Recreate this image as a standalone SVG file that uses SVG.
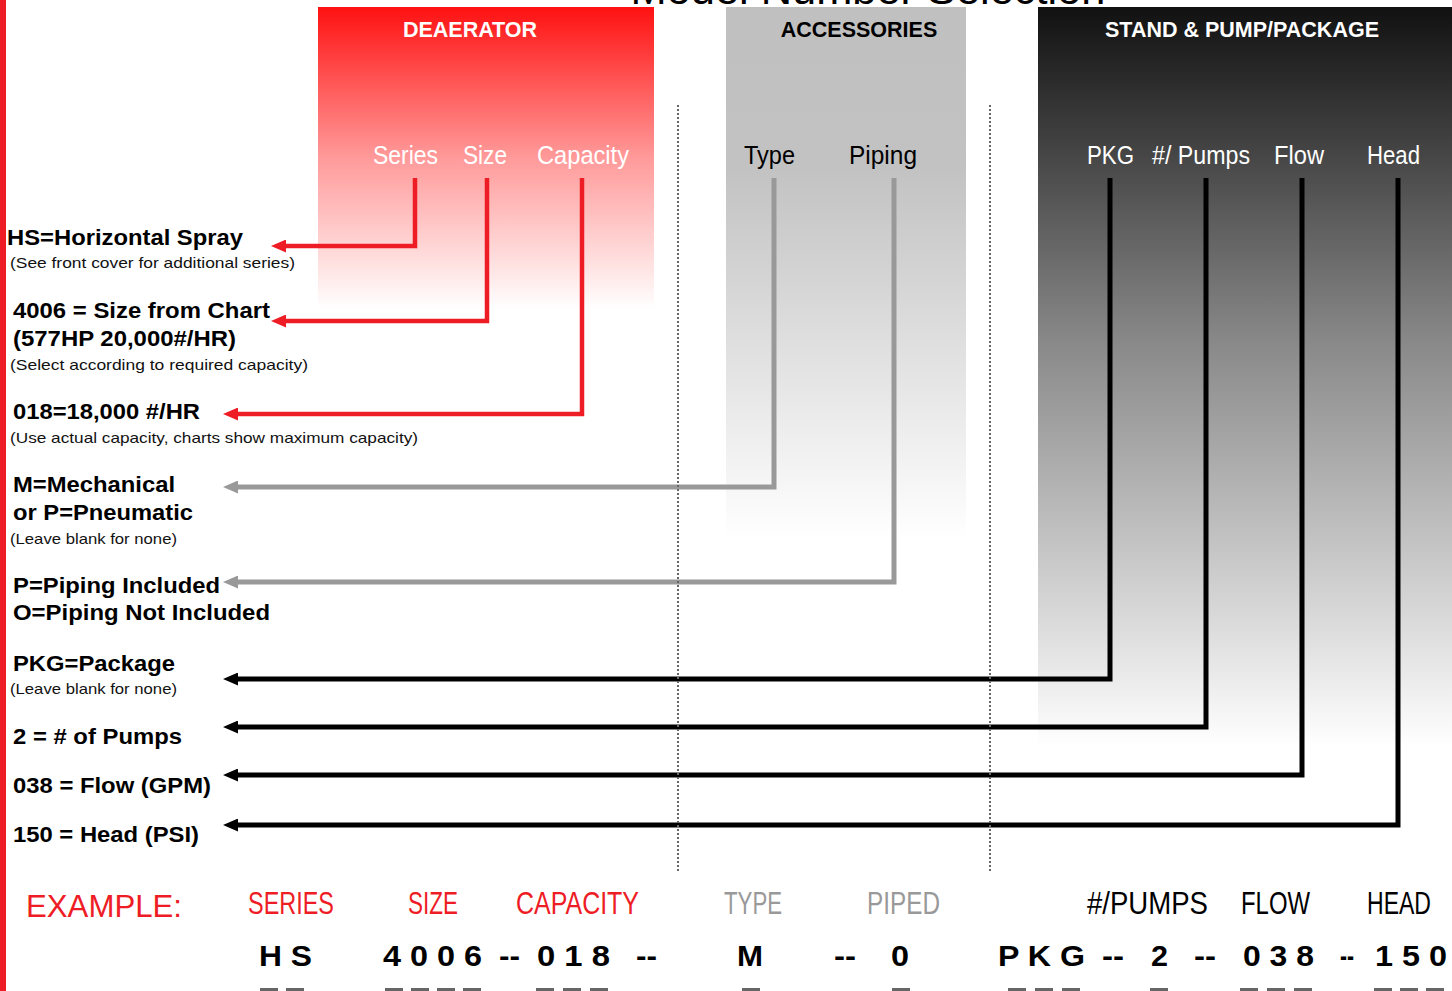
<svg xmlns="http://www.w3.org/2000/svg" width="1452" height="991" viewBox="0 0 1452 991">
<style>
.b{font-family:"Liberation Sans",Arial,sans-serif;font-weight:bold;font-size:22px;fill:#000}
.s{font-family:"Liberation Sans",Arial,sans-serif;font-size:15px;fill:#111}
.h{font-family:"Liberation Sans",Arial,sans-serif;font-weight:bold;font-size:21.5px}
.n{font-family:"Liberation Sans Narrow","Liberation Sans",Arial,sans-serif;font-size:25px}
.e{font-family:"Liberation Sans Narrow","Liberation Sans",Arial,sans-serif;font-size:32px}
.v{font-family:"Liberation Sans Narrow","Liberation Sans",Arial,sans-serif;font-weight:bold;font-size:30px;fill:#000}
.red{stroke:#ee1c25;stroke-width:4.5;fill:none}
.gry{stroke:#999;stroke-width:5;fill:none}
.blk{stroke:#000;stroke-width:5;fill:none}
.div{stroke:#666;stroke-width:2;stroke-dasharray:2,2;fill:none}
.ul{fill:#666}
</style>
<defs>
<linearGradient id="gR" x1="0" y1="0" x2="0" y2="1">
<stop offset="0" stop-color="#ff1111"/><stop offset="0.5" stop-color="#ff9a9a"/><stop offset="1" stop-color="#ffffff"/>
</linearGradient>
<linearGradient id="gG" x1="0" y1="0" x2="0" y2="1">
<stop offset="0" stop-color="#c0c0c0"/><stop offset="0.3" stop-color="#c2c2c2"/><stop offset="1" stop-color="#ffffff"/>
</linearGradient>
<linearGradient id="gK" x1="0" y1="0" x2="0" y2="1">
<stop offset="0" stop-color="#111111"/><stop offset="0.45" stop-color="#888888"/><stop offset="1" stop-color="#ffffff"/>
</linearGradient>
<marker id="aR" markerUnits="userSpaceOnUse" markerWidth="15" markerHeight="13" viewBox="0 0 15 13" refX="2" refY="6.5" orient="auto"><path d="M0,0 L15,6.5 L0,13 z" fill="#ee1c25"/></marker>
<marker id="aG" markerUnits="userSpaceOnUse" markerWidth="15" markerHeight="13" viewBox="0 0 15 13" refX="2" refY="6.5" orient="auto"><path d="M0,0 L15,6.5 L0,13 z" fill="#999"/></marker>
<marker id="aK" markerUnits="userSpaceOnUse" markerWidth="15" markerHeight="13" viewBox="0 0 15 13" refX="2" refY="6.5" orient="auto"><path d="M0,0 L15,6.5 L0,13 z" fill="#000"/></marker>
</defs>
<rect width="1452" height="991" fill="#fff"/>
<rect x="0" y="0" width="6" height="991" fill="#ee1c25"/>
<text x="868" y="4" text-anchor="middle" font-family="Liberation Sans,Arial,sans-serif" font-size="43" textLength="475" lengthAdjust="spacingAndGlyphs" fill="#000">Model Number Selection</text>

<g id="deaerator">
<rect x="318" y="7" width="336" height="302" fill="url(#gR)"/>
<text class="h" x="470" y="37" text-anchor="middle" fill="#fff">DEAERATOR</text>
<text class="n" x="373" y="164" textLength="65" lengthAdjust="spacingAndGlyphs" fill="#fff">Series</text>
<text class="n" x="463" y="164" textLength="44" lengthAdjust="spacingAndGlyphs" fill="#fff">Size</text>
<text class="n" x="537" y="164" textLength="92" lengthAdjust="spacingAndGlyphs" fill="#fff">Capacity</text>
</g>
<g id="accessories">
<rect x="726" y="7" width="240" height="533" fill="url(#gG)"/>
<text class="h" x="859" y="37" text-anchor="middle" fill="#000">ACCESSORIES</text>
<text class="n" x="744" y="164" textLength="51" lengthAdjust="spacingAndGlyphs" fill="#000">Type</text>
<text class="n" x="849" y="164" textLength="68" lengthAdjust="spacingAndGlyphs" fill="#000">Piping</text>
</g>
<g id="stand">
<rect x="1038" y="7" width="414" height="740" fill="url(#gK)"/>
<text class="h" x="1242" y="37" text-anchor="middle" fill="#fff">STAND &amp; PUMP/PACKAGE</text>
<text class="n" x="1087" y="164" textLength="47" lengthAdjust="spacingAndGlyphs" fill="#fff">PKG</text>
<text class="n" x="1152" y="164" textLength="98" lengthAdjust="spacingAndGlyphs" fill="#fff">#/ Pumps</text>
<text class="n" x="1274" y="164" textLength="50" lengthAdjust="spacingAndGlyphs" fill="#fff">Flow</text>
<text class="n" x="1367" y="164" textLength="53" lengthAdjust="spacingAndGlyphs" fill="#fff">Head</text>
</g>

<g id="connectors">
<path class="red" d="M415,178 V246 H284" marker-end="url(#aR)"/>
<path class="red" d="M487,178 V321 H284" marker-end="url(#aR)"/>
<path class="red" d="M582,178 V414 H236" marker-end="url(#aR)"/>
<path class="gry" d="M774,178 V487 H236" marker-end="url(#aG)"/>
<path class="gry" d="M894,178 V582 H236" marker-end="url(#aG)"/>
<path class="blk" d="M1110,178 V679 H236" marker-end="url(#aK)"/>
<path class="blk" d="M1206,178 V727 H236" marker-end="url(#aK)"/>
<path class="blk" d="M1302,178 V775 H236" marker-end="url(#aK)"/>
<path class="blk" d="M1398,178 V825 H236" marker-end="url(#aK)"/>
</g>
<g id="dividers">
<line class="div" x1="678" y1="105" x2="678" y2="872"/>
<line class="div" x1="990" y1="105" x2="990" y2="872"/>
</g>

<g id="legend">
<text class="b" x="7" y="245" textLength="236" lengthAdjust="spacingAndGlyphs">HS=Horizontal Spray</text>
<text class="s" x="10" y="268" textLength="285" lengthAdjust="spacingAndGlyphs">(See front cover for additional series)</text>
<text class="b" x="13" y="318" textLength="257" lengthAdjust="spacingAndGlyphs">4006 = Size from Chart</text>
<text class="b" x="13" y="346" textLength="223" lengthAdjust="spacingAndGlyphs">(577HP 20,000#/HR)</text>
<text class="s" x="10" y="370" textLength="298" lengthAdjust="spacingAndGlyphs">(Select according to required capacity)</text>
<text class="b" x="13" y="419" textLength="187" lengthAdjust="spacingAndGlyphs">018=18,000 #/HR</text>
<text class="s" x="10" y="443" textLength="408" lengthAdjust="spacingAndGlyphs">(Use actual capacity, charts show maximum capacity)</text>
<text class="b" x="13" y="492" textLength="162" lengthAdjust="spacingAndGlyphs">M=Mechanical</text>
<text class="b" x="13" y="520" textLength="180" lengthAdjust="spacingAndGlyphs">or P=Pneumatic</text>
<text class="s" x="10" y="544" textLength="167" lengthAdjust="spacingAndGlyphs">(Leave blank for none)</text>
<text class="b" x="13" y="593" textLength="207" lengthAdjust="spacingAndGlyphs">P=Piping Included</text>
<text class="b" x="13" y="620" textLength="257" lengthAdjust="spacingAndGlyphs">O=Piping Not Included</text>
<text class="b" x="13" y="671" textLength="162" lengthAdjust="spacingAndGlyphs">PKG=Package</text>
<text class="s" x="10" y="694" textLength="167" lengthAdjust="spacingAndGlyphs">(Leave blank for none)</text>
<text class="b" x="13" y="744" textLength="169" lengthAdjust="spacingAndGlyphs">2 = # of Pumps</text>
<text class="b" x="13" y="793" textLength="198" lengthAdjust="spacingAndGlyphs">038 = Flow (GPM)</text>
<text class="b" x="13" y="842" textLength="186" lengthAdjust="spacingAndGlyphs">150 = Head (PSI)</text>
</g>

<g id="example">
<text class="e" x="26" y="917" font-size="37" textLength="156" lengthAdjust="spacingAndGlyphs" fill="#ee1c25">EXAMPLE:</text>
<text class="e" x="248" y="914" textLength="86" lengthAdjust="spacingAndGlyphs" fill="#ee1c25">SERIES</text>
<text class="e" x="408" y="914" textLength="50" lengthAdjust="spacingAndGlyphs" fill="#ee1c25">SIZE</text>
<text class="e" x="516" y="914" textLength="123" lengthAdjust="spacingAndGlyphs" fill="#ee1c25">CAPACITY</text>
<text class="e" x="724" y="914" textLength="58" lengthAdjust="spacingAndGlyphs" fill="#999">TYPE</text>
<text class="e" x="867" y="914" textLength="73" lengthAdjust="spacingAndGlyphs" fill="#999">PIPED</text>
<text class="e" x="1087" y="914" textLength="121" lengthAdjust="spacingAndGlyphs" fill="#000">#/PUMPS</text>
<text class="e" x="1241" y="914" textLength="69" lengthAdjust="spacingAndGlyphs" fill="#000">FLOW</text>
<text class="e" x="1367" y="914" textLength="64" lengthAdjust="spacingAndGlyphs" fill="#000">HEAD</text>

<text class="v" x="259" y="966" textLength="53" lengthAdjust="spacingAndGlyphs">H S</text>
<text class="v" x="383" y="966" textLength="99" lengthAdjust="spacingAndGlyphs">4 0 0 6</text>
<text class="v" x="499" y="966" textLength="21" lengthAdjust="spacingAndGlyphs">--</text>
<text class="v" x="537" y="966" textLength="73" lengthAdjust="spacingAndGlyphs">0 1 8</text>
<text class="v" x="636" y="966" textLength="21" lengthAdjust="spacingAndGlyphs">--</text>
<text class="v" x="737" y="966" textLength="26" lengthAdjust="spacingAndGlyphs">M</text>
<text class="v" x="834" y="966" textLength="22" lengthAdjust="spacingAndGlyphs">--</text>
<text class="v" x="891" y="966" textLength="18" lengthAdjust="spacingAndGlyphs">0</text>
<text class="v" x="998" y="966" textLength="87" lengthAdjust="spacingAndGlyphs">P K G</text>
<text class="v" x="1102" y="966" textLength="22" lengthAdjust="spacingAndGlyphs">--</text>
<text class="v" x="1151" y="966" textLength="17" lengthAdjust="spacingAndGlyphs">2</text>
<text class="v" x="1194" y="966" textLength="22" lengthAdjust="spacingAndGlyphs">--</text>
<text class="v" x="1243" y="966" textLength="71" lengthAdjust="spacingAndGlyphs">0 3 8</text>
<text class="v" x="1340" y="966" font-size="20" textLength="14" lengthAdjust="spacingAndGlyphs">--</text>
<text class="v" x="1375" y="966" textLength="72" lengthAdjust="spacingAndGlyphs">1 5 0</text>

<g class="ul">
<rect x="260" y="988" width="18" height="3"/><rect x="286" y="988" width="18" height="3"/>
<rect x="385" y="988" width="18" height="3"/><rect x="411" y="988" width="18" height="3"/><rect x="437" y="988" width="18" height="3"/><rect x="463" y="988" width="18" height="3"/>
<rect x="536" y="988" width="18" height="3"/><rect x="563" y="988" width="18" height="3"/><rect x="590" y="988" width="18" height="3"/>
<rect x="742" y="988" width="18" height="3"/>
<rect x="892" y="988" width="18" height="3"/>
<rect x="1008" y="988" width="18" height="3"/><rect x="1035" y="988" width="18" height="3"/><rect x="1062" y="988" width="18" height="3"/>
<rect x="1150" y="988" width="18" height="3"/>
<rect x="1240" y="988" width="18" height="3"/><rect x="1267" y="988" width="18" height="3"/><rect x="1294" y="988" width="18" height="3"/>
<rect x="1374" y="988" width="18" height="3"/><rect x="1400" y="988" width="18" height="3"/><rect x="1426" y="988" width="18" height="3"/>
</g>
</g>
</svg>
